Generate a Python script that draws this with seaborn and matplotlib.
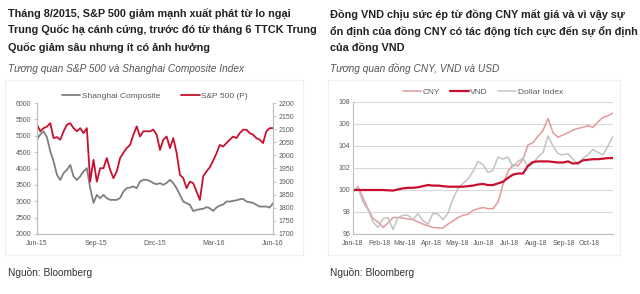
import matplotlib
matplotlib.use("Agg")
import matplotlib.pyplot as plt
import pandas as pd
import seaborn as sns
from matplotlib.lines import Line2D
from matplotlib.patches import Rectangle

# ---- left panel: Shanghai Composite vs S&P 500 (roughly every 5 days) ----
SHANGHAI = [
    4880, 5050, 5130, 4950, 4520, 4215, 3810, 3650, 3860, 3960,
    4110, 3760, 3650, 3760, 3910, 4010, 3400, 2950, 3195, 3093,
    3195, 3093, 3042, 3042, 3042, 3100, 3297, 3399, 3420, 3450,
    3399, 3603, 3654, 3654, 3620, 3552, 3520, 3552, 3501, 3560,
    3654, 3552, 3399, 3195, 2991, 2940, 2889, 2700, 2736, 2756,
    2770, 2820, 2787, 2705, 2810, 2869, 2900, 2991, 2991, 3011,
    3030, 3060, 3073, 2991, 2971, 2950, 2889, 2838, 2838, 2838,
    2807, 2940,
]
SP500 = [
    2117, 2092, 2104, 2110, 2123, 2066, 2070, 2060, 2092, 2117,
    2123, 2104, 2092, 2104, 2085, 2104, 1900, 1983, 1900, 1951,
    1951, 1990, 1945, 1913, 1939, 1990, 2010, 2028, 2040, 2079,
    2111, 2072, 2092, 2092, 2092, 2098, 2079, 2021, 2060, 2072,
    2028, 2066, 2010, 1926, 1913, 1875, 1900, 1894, 1862, 1830,
    1920, 1939, 1955, 1980, 2008, 2040, 2034, 2047, 2060, 2072,
    2066, 2085, 2098, 2098, 2085, 2079, 2066, 2060, 2047, 2092,
    2104, 2104,
]
LEFT_START, LEFT_END = "2015-06-01", "2016-06-01"
LEFT_TICKS = ["2015-06-01", "2015-09-01", "2015-12-01", "2016-03-01", "2016-06-01"]
LEFT_TICK_LABELS = ["Jun-15", "Sep-15", "Dec-15", "Mar-16", "Jun-16"]

# ---- right panel: CNY, VND, Dollar index (rebased, ~weekly) ----
CNY = [
    99.85, 100.3, 99.3, 98.3, 97.4, 97.1, 96.6, 97.0, 97.5, 97.5,
    97.45, 97.35, 97.3, 97.1, 96.9, 96.75, 96.6, 96.55, 96.55, 96.9,
    97.2, 97.5, 97.7, 97.8, 98.15, 98.3, 98.4, 98.3, 98.3, 98.9,
    100.5, 101.7, 102.3, 102.2, 102.8, 104.1, 104.3, 104.9, 105.4, 106.5,
    105.2, 104.8, 105.0, 105.2, 105.45, 105.6, 105.7, 105.85, 105.7, 106.2,
    106.6, 106.75, 107.0,
]
VND = [
    100.0, 100.0, 100.0, 100.0, 100.0, 100.0, 100.0, 99.97, 99.95, 100.05,
    100.15, 100.2, 100.2, 100.25, 100.35, 100.45, 100.4, 100.4, 100.35, 100.3,
    100.3, 100.3, 100.3, 100.35, 100.4, 100.5, 100.55, 100.45, 100.45, 100.6,
    100.75, 101.1, 101.4, 101.5, 101.5, 102.2, 102.55, 102.6, 102.6, 102.6,
    102.55, 102.5, 102.5, 102.6, 102.4, 102.45, 102.7, 102.75, 102.8, 102.8,
    102.85, 102.9, 102.9,
]
DOLLAR = [
    99.85, 100.2, 98.9, 98.2, 97.1, 96.6, 97.4, 97.5, 96.4, 97.5,
    97.7, 97.7, 97.3, 97.85, 97.2, 96.9, 97.9, 97.8, 97.3, 97.9,
    99.2, 100.15, 100.6, 101.0, 101.7, 102.6, 102.3, 101.6, 101.8, 103.0,
    102.8, 103.0, 102.1, 102.6, 102.9, 102.1, 102.4, 103.0, 103.4, 104.9,
    104.0, 103.3, 103.2, 103.3, 102.8, 102.3, 102.9, 103.2, 103.7, 103.4,
    103.2, 104.0, 104.9,
]
RIGHT_START, RIGHT_END = "2018-01-01", "2018-10-28"
RIGHT_TICKS = pd.date_range("2018-01-01", "2018-10-01", freq="MS")
RIGHT_TICK_LABELS = ["Jan-18", "Feb-18", "Mar-18", "Apr-18", "May-18",
                     "Jun-18", "Jul-18", "Aug-18", "Sep-18", "Oct-18"]

TITLE_LEFT = ("Tháng 8/2015, S&P 500 giảm mạnh xuất phát từ lo ngại\n"
              "Trung Quốc hạ cánh cứng, trước đó từ tháng 6 TTCK Trung\n"
              "Quốc giảm sâu nhưng ít có ảnh hưởng")
TITLE_RIGHT = ("Đồng VND chịu sức ép từ đồng CNY mất giá và vì vậy sự\n"
               "ổn định của đồng CNY có tác động tích cực đến sự ổn định\n"
               "của đồng VND")
SUB_LEFT = "Tương quan S&P 500 và Shanghai Composite Index"
SUB_RIGHT = "Tương quan đồng CNY, VND và USD"
SOURCE = "Nguồn: Bloomberg"

GREY_LINE = "#7f7f7f"
RED = "#c8102e"
PINK = "#e39a9c"
LIGHT_GREY = "#c3c3c3"
TICK_COLOR = "#595959"
SPINE = "#bfbfbf"

sns.set_style("white")
plt.rcParams["font.family"] = ["Liberation Sans", "DejaVu Sans"]

W, H = 640, 294
fig = plt.figure(figsize=(W / 100, H / 100), dpi=100)
fig.patch.set_facecolor("white")


def px_rect(x0, y0, x1, y1):
    return [x0 / W, 1 - y1 / H, (x1 - x0) / W, (y1 - y0) / H]


# faint chart boxes
for x0, x1 in [(5, 303), (328, 620)]:
    fig.patches.append(Rectangle((x0 / W, 1 - 255 / H), (x1 - x0) / W, 175 / H,
                                 transform=fig.transFigure, fill=False,
                                 edgecolor="#f0f0f0", linewidth=0.8))

# ---------------- left chart ----------------
left = pd.DataFrame({
    "date": pd.date_range(LEFT_START, LEFT_END, periods=len(SHANGHAI)),
    "shanghai": SHANGHAI,
    "sp500": SP500,
})
ax1 = fig.add_axes(px_rect(37, 103, 273, 234))
ax1b = ax1.twinx()
sns.lineplot(data=left, x="date", y="shanghai", ax=ax1, color=GREY_LINE, linewidth=1.3)
sns.lineplot(data=left, x="date", y="sp500", ax=ax1b, color=RED, linewidth=1.3)
ax1.set_ylim(2000, 6000)
ax1.set_yticks(range(2000, 6001, 500))
ax1b.set_ylim(1700, 2200)
ax1b.set_yticks(range(1700, 2201, 50))
ax1.set_xlim(pd.Timestamp(LEFT_START), pd.Timestamp(LEFT_END))
ax1.set_xticks(pd.to_datetime(LEFT_TICKS))
ax1.set_xticklabels(LEFT_TICK_LABELS)
for a in (ax1, ax1b):
    a.set_xlabel("")
    a.set_ylabel("")
    a.patch.set_alpha(0)
    a.spines["top"].set_visible(False)
    for side in ("left", "right", "bottom"):
        a.spines[side].set_color(SPINE)
        a.spines[side].set_linewidth(0.8)
    a.tick_params(labelsize=5, colors=SPINE, labelcolor=TICK_COLOR,
                  length=2, width=0.6, pad=2)

h1 = [Line2D([], [], color=GREY_LINE, lw=1.3), Line2D([], [], color=RED, lw=1.3)]
ax1.legend(h1, ["Shanghai Composite", "S&P 500 (P)"], loc="lower center",
           bbox_to_anchor=(0.5, 1.0), ncol=2, frameon=False, fontsize=6,
           handlelength=2.2, handletextpad=0.2, columnspacing=2.5,
           labelcolor=TICK_COLOR, borderaxespad=0)

# ---------------- right chart ----------------
right = pd.DataFrame({
    "date": pd.date_range(RIGHT_START, RIGHT_END, periods=len(CNY)),
    "CNY": CNY,
    "VND": VND,
    "Dollar Index": DOLLAR,
})
ax2 = fig.add_axes(px_rect(353, 102, 613, 234))
ax2.set_ylim(96, 108)
ax2.set_yticks(range(96, 109, 2))
ax2.grid(axis="y", color="#d9d9d9", linewidth=0.8)
ax2.set_axisbelow(True)
sns.lineplot(data=right, x="date", y="CNY", ax=ax2, color=PINK, linewidth=1.1)
sns.lineplot(data=right, x="date", y="Dollar Index", ax=ax2, color=LIGHT_GREY, linewidth=1.1)
sns.lineplot(data=right, x="date", y="VND", ax=ax2, color=RED, linewidth=1.6)
ax2.set_xlim(pd.Timestamp(RIGHT_START), pd.Timestamp(RIGHT_END))
ax2.set_xticks(RIGHT_TICKS)
ax2.set_xticklabels(RIGHT_TICK_LABELS)
ax2.set_xlabel("")
ax2.set_ylabel("")
for side in ("top", "right"):
    ax2.spines[side].set_visible(False)
for side in ("left", "bottom"):
    ax2.spines[side].set_color(SPINE)
    ax2.spines[side].set_linewidth(0.8)
ax2.tick_params(labelsize=5, colors=SPINE, labelcolor=TICK_COLOR, length=2, width=0.6, pad=2)
ax2.tick_params(axis="y", length=0)

h2 = [Line2D([], [], color=PINK, lw=1.1), Line2D([], [], color=RED, lw=1.6),
      Line2D([], [], color=LIGHT_GREY, lw=1.1)]
ax2.legend(h2, ["CNY", "VND", "Dollar Index"], loc="lower center",
           bbox_to_anchor=(0.5, 1.02), ncol=3, frameon=False, fontsize=6,
           handlelength=2.2, handletextpad=0.2, columnspacing=1.2,
           labelcolor=TICK_COLOR, borderaxespad=0)

# ---------------- texts ----------------
for x, title, sub in [(8, TITLE_LEFT, SUB_LEFT), (330, TITLE_RIGHT, SUB_RIGHT)]:
    fig.text(x / W, 1 - 9 / H, title, ha="left", va="top", fontsize=7.8,
             fontweight="bold", color="#222222", linespacing=1.6)
    fig.text(x / W, 1 - 69 / H, sub, ha="left", va="center", fontsize=7.3,
             style="italic", color="#555555")
    fig.text(x / W, 1 - 272 / H, SOURCE, ha="left", va="center", fontsize=7.3,
             color="#333333", family=["Liberation Sans Narrow", "Liberation Sans"])

fig.savefig("out.png", dpi=100, facecolor="white")
